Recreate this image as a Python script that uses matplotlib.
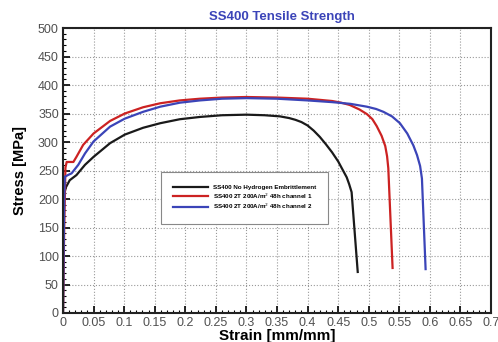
import matplotlib.pyplot as plt
from matplotlib.ticker import MultipleLocator, FuncFormatter

plt.rcParams['font.family'] = ['Liberation Sans', 'DejaVu Sans']

strain_base = [0, 0.0005, 0.002, 0.005, 0.011, 0.022, 0.036, 0.050, 0.077, 0.101, 0.131,
               0.159, 0.191, 0.224, 0.26, 0.30, 0.33, 0.355, 0.37, 0.38, 0.39, 0.40,
               0.41, 0.42, 0.43, 0.44, 0.45, 0.458, 0.464, 0.468, 0.472, 0.482]
stress_base = [0, 140, 210, 221, 233, 242, 260, 274, 298, 313, 325,
               333, 340, 344, 347, 348, 347, 345, 342, 339, 335, 329,
               320, 309, 296, 282, 266, 250, 238, 226, 212, 72]

strain_ch1 = [0, 0.002, 0.004, 0.006, 0.010, 0.017, 0.022, 0.033, 0.050, 0.077, 0.101,
              0.131, 0.159, 0.191, 0.224, 0.26, 0.30, 0.35, 0.40, 0.44, 0.455, 0.469,
              0.485, 0.497, 0.506, 0.513, 0.521, 0.527, 0.530, 0.532, 0.539]
stress_ch1 = [0, 150, 255, 265, 265, 265, 274, 295, 315, 337, 350,
              361, 368, 373, 376, 378, 379, 378, 376, 372, 369, 365,
              357, 349, 340, 328, 311, 293, 275, 254, 79]

strain_ch2 = [0, 0.002, 0.003, 0.008, 0.014, 0.025, 0.036, 0.050, 0.077, 0.101, 0.131,
              0.159, 0.191, 0.224, 0.26, 0.30, 0.35, 0.40, 0.44, 0.47, 0.497, 0.512,
              0.524, 0.538, 0.551, 0.563, 0.573, 0.579, 0.584, 0.587, 0.593]
stress_ch2 = [0, 200, 239, 242, 245, 260, 280, 301, 327, 341, 353,
              362, 369, 373, 376, 377, 376, 373, 370, 367, 362, 358,
              353, 345, 333, 315, 294, 277, 258, 236, 77]

labels = ['SS400 No Hydrogen Embrittlement',
          'SS400 2T 200A/m$^2$ 48h channel 1',
          'SS400 2T 200A/m$^2$ 48h channel 2']

fig = plt.figure(figsize=(4.98, 3.42), dpi=100)
ax = fig.add_axes([0.1265, 0.0848, 0.8595, 0.8332])

ax.plot(strain_base, stress_base, color='#1a1a1a', lw=1.6, label=labels[0])
ax.plot(strain_ch1, stress_ch1, color='#cc2222', lw=1.6, label=labels[1])
ax.plot(strain_ch2, stress_ch2, color='#3b44b8', lw=1.6, label=labels[2])

ax.set_xlim(0, 0.7)
ax.set_ylim(0, 500)
ax.xaxis.set_major_locator(MultipleLocator(0.05))
ax.xaxis.set_minor_locator(MultipleLocator(0.01))
ax.yaxis.set_major_locator(MultipleLocator(50))
ax.yaxis.set_minor_locator(MultipleLocator(10))
ax.xaxis.set_major_formatter(FuncFormatter(lambda v, _: '%g' % round(v, 2)))
ax.tick_params(which='major', direction='in', length=5, width=1.2, labelsize=9,
               labelcolor='#505050', top=False, right=False, pad=3)
ax.tick_params(which='minor', direction='in', length=2.5, width=0.8, top=False, right=False)
ax.grid(True, which='major', linestyle=':', color='#999999', lw=0.8)
for s in ax.spines.values():
    s.set_linewidth(1.5)
    s.set_color('#222222')

ax.set_xlabel('Strain [mm/mm]', fontweight='bold', fontsize=11, labelpad=0)
ax.set_ylabel('Stress [MPa]', fontweight='bold', fontsize=10.5, labelpad=8)
fig.text(0.567, 0.95, 'SS400 Tensile Strength', color='#3b44b8', fontweight='bold',
         fontsize=9.5, ha='center', va='center')

leg = ax.legend(loc='center', bbox_to_anchor=(0.424, 0.404), handlelength=5.5,
                borderpad=2.0, labelspacing=0.2, fancybox=False, framealpha=1,
                edgecolor='#888888', prop={'weight': 'bold', 'size': 4.5})
leg.get_frame().set_linewidth(0.8)

plt.savefig('out.png', dpi=100)
plt.close()
